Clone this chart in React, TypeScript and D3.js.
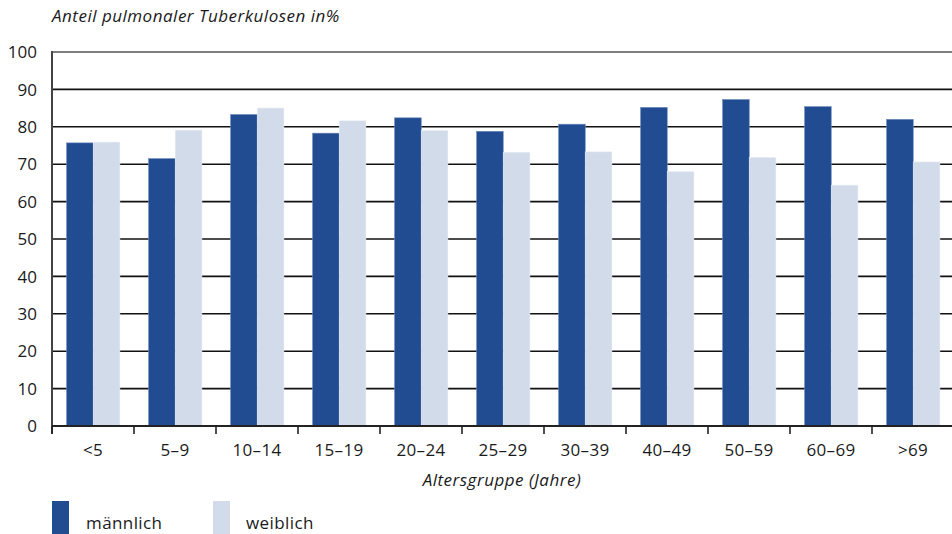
import React from "react";
import * as d3 from "d3";

const categories = ["<5", "5–9", "10–14", "15–19", "20–24", "25–29", "30–39", "40–49", "50–59", "60–69", ">69"];
const maleValues = [75.7, 71.5, 83.3, 78.3, 82.4, 78.8, 80.7, 85.2, 87.3, 85.4, 82.0];
const femaleValues = [75.9, 79.1, 85.0, 81.6, 79.0, 73.2, 73.3, 68.0, 71.8, 64.4, 70.6];
const seriesNames = ["männlich", "weiblich"];
const yTicks = [0, 10, 20, 30, 40, 50, 60, 70, 80, 90, 100];
const title = "Anteil pulmonaler Tuberkulosen in%";
const xTitle = "Altersgruppe (Jahre)";

const W = 952;
const H = 534;
const left = 52;
const right = 954;
const top = 52;
const bottom = 426;
const colors = ["#214C92", "#D2DBE9"];
const font = "'Open Sans', 'Lato', sans-serif";

export default function App() {
  const x = d3.scaleBand<string>().domain(categories).range([left, right]).padding(0);
  const bw = x.bandwidth();
  const inner = d3.scaleBand<string>().domain(seriesNames).range([bw * 0.178, bw * 0.828]).padding(0);
  const y = d3.scaleLinear().domain([0, 100]).range([bottom, top]);
  const series = [maleValues, femaleValues];

  return (
    <svg width={W} height={H} style={{ position: "absolute", left: 0, top: 0, background: "#fff" }} fontFamily={font}>
      <text x={52} y={22} fontSize={17} fontStyle="italic" letterSpacing={0.5} fill="#1a1a1a">{title}</text>
      {/* grid lines */}
      {yTicks.filter((t) => t > 0 && t < 100).map((t) => (
        <line key={t} x1={left} x2={W} y1={y(t)} y2={y(t)} stroke="#111" strokeWidth={1.6} />
      ))}
      <line x1={left} x2={W} y1={y(100)} y2={y(100)} stroke="#555" strokeWidth={1.4} />
      {/* bars */}
      {series.map((vals, si) =>
        categories.map((c, i) => (
          <rect
            key={c + si}
            x={(x(c) as number) + (inner(seriesNames[si]) as number)}
            y={y(vals[i])}
            width={inner.bandwidth()}
            height={bottom - y(vals[i])}
            fill={colors[si]}
            stroke={si === 0 ? "#6f8cbc" : "#e6ecf4"}
            strokeWidth={0.6}
          />
        ))
      )}
      {/* axes */}
      <line x1={left} x2={left} y1={top - 1} y2={bottom + 8} stroke="#444" strokeWidth={2} />
      <line x1={left} x2={W} y1={bottom} y2={bottom} stroke="#222" strokeWidth={2} />
      {yTicks.map((t) => (
        <text key={t} x={37} y={y(t)} dy="0.36em" textAnchor="end" fontSize={17} fill="#1a1a1a">{t}</text>
      ))}
      {categories.map((c) => (
        <line key={c} x1={x(c) as number} x2={x(c) as number} y1={bottom} y2={bottom + 8} stroke="#222" strokeWidth={1.6} />
      ))}
      {categories.map((c) => (
        <text key={c} x={(x(c) as number) + bw / 2} y={456} textAnchor="middle" fontSize={17} letterSpacing={0.3} fill="#1a1a1a">{c}</text>
      ))}
      <text x={502} y={486} textAnchor="middle" fontSize={17} fontStyle="italic" letterSpacing={0.5} fill="#1a1a1a">{xTitle}</text>
      {/* legend */}
      {seriesNames.map((s, i) => (
        <g key={s}>
          <rect x={52 + i * 161} y={501} width={17} height={33} fill={colors[i]} />
          <text x={86 + i * 160} y={529} fontSize={17} letterSpacing={0.4} fill="#1a1a1a">{s}</text>
        </g>
      ))}
    </svg>
  );
}
